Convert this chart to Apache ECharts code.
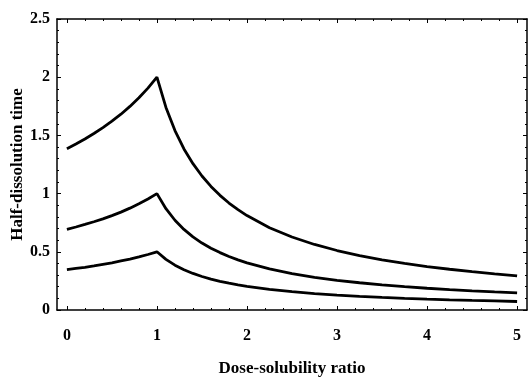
<!DOCTYPE html>
<html>
<head>
<meta charset="utf-8">
<script src="https://cdn.jsdelivr.net/npm/echarts@6/dist/echarts.min.js"></script>
<style>html,body{margin:0;padding:0;background:#fff;}#c{width:528px;height:381px;}</style>
</head>
<body>
<div id="c"></div>
<script>
var doseRatio = [0,0.1,0.2,0.3,0.4,0.5,0.6,0.7,0.8,0.9,1.0,1.1,1.2,1.3,1.4,1.5,1.6,1.7,1.8,1.9,2.0,2.25,2.5,2.75,3.0,3.25,3.5,3.75,4.0,4.25,4.5,4.75,5.0];
var upperCurve = [1.386,1.426,1.469,1.516,1.567,1.622,1.682,1.749,1.823,1.906,2.000,1.740,1.542,1.384,1.257,1.151,1.062,0.985,0.919,0.862,0.811,0.707,0.627,0.563,0.511,0.468,0.431,0.400,0.373,0.350,0.329,0.310,0.294];
var middleCurve = [0.693,0.713,0.735,0.758,0.783,0.811,0.841,0.875,0.912,0.953,1.000,0.870,0.771,0.692,0.628,0.575,0.531,0.493,0.460,0.431,0.405,0.354,0.313,0.281,0.255,0.234,0.216,0.200,0.187,0.175,0.164,0.155,0.147];
var lowerCurve = [0.347,0.357,0.367,0.379,0.392,0.405,0.421,0.437,0.456,0.477,0.500,0.435,0.385,0.346,0.314,0.288,0.265,0.246,0.230,0.215,0.203,0.177,0.157,0.141,0.128,0.117,0.108,0.100,0.093,0.087,0.082,0.078,0.073];
var xTicks = [0,1,2,3,4,5];
var xMinorTicks = [0.2,0.4,0.6,0.8,1.2,1.4,1.6,1.8,2.2,2.4,2.6,2.8,3.2,3.4,3.6,3.8,4.2,4.4,4.6,4.8];
var yTicks = [0,0.5,1,1.5,2,2.5];
var xTitle = 'Dose-solubility ratio';
var yTitle = 'Half-dissolution time';

function pairs(vals){ return doseRatio.map(function(x,i){ return [x, vals[i]]; }); }

var font = 'Liberation Serif';
var chart = echarts.init(document.getElementById('c'), null, {renderer:'canvas'});
var lineStyle = {show:true, onZero:false, lineStyle:{color:'#000', width:1.5}};
var labelStyle = {color:'#000', fontFamily:font, fontWeight:'bold', fontSize:16};
function tick(vals, len){ return {show:true, inside:true, length:len, customValues:vals, lineStyle:{color:'#000', width:1}}; }
function xAx(pos, vals, len, showLine, label){
  return {type:'value', min:-0.11, max:5.11, position:pos,
    axisLine: showLine ? lineStyle : {show:false, onZero:false},
    axisTick: tick(vals, len), splitLine:{show:false},
    axisLabel: label || {show:false}};
}
var yMinorTick = {show:true, splitNumber:5, length:2, lineStyle:{color:'#000', width:1}};
chart.setOption({
  animation:false,
  backgroundColor:'#fff',
  grid:{left:57, right:1, top:19, bottom:71, containLabel:false, outerBoundsMode:'none'},
  xAxis:[
    Object.assign(xAx('bottom', xTicks, 4, true, Object.assign({customValues:xTicks, margin:18}, labelStyle)), {
      name:xTitle, nameLocation:'middle', nameGap:50, nameMoveOverlap:false,
      nameTextStyle:{color:'#000', fontFamily:font, fontWeight:'bold', fontSize:17}
    }),
    xAx('top', xTicks, 4, true),
    xAx('bottom', xMinorTicks, 2, false),
    xAx('top', xMinorTicks, 2, false)
  ],
  yAxis:[{
    type:'value', min:0, max:2.5, interval:0.5, position:'left',
    axisLine:lineStyle, axisTick:{show:true, inside:true, length:4, lineStyle:{color:'#000', width:1}},
    minorTick:yMinorTick, splitLine:{show:false},
    axisLabel:Object.assign({margin:7}, labelStyle),
    name:yTitle, nameLocation:'middle', nameGap:31, nameRotate:90, nameMoveOverlap:false,
    nameTextStyle:{color:'#000', fontFamily:font, fontWeight:'bold', fontSize:17}
  },{
    type:'value', min:0, max:2.5, interval:0.5, position:'right',
    axisLine:lineStyle, axisTick:{show:true, inside:true, length:4, lineStyle:{color:'#000', width:1}},
    minorTick:yMinorTick, splitLine:{show:false},
    axisLabel:{show:false}
  }],
  series:[
    {type:'line', data:pairs(upperCurve), showSymbol:false, lineStyle:{color:'#000', width:2.8}, xAxisIndex:0, yAxisIndex:0},
    {type:'line', data:pairs(middleCurve), showSymbol:false, lineStyle:{color:'#000', width:2.8}, xAxisIndex:0, yAxisIndex:0},
    {type:'line', data:pairs(lowerCurve), showSymbol:false, lineStyle:{color:'#000', width:2.8}, xAxisIndex:0, yAxisIndex:0}
  ]
});
</script>
</body>
</html>
